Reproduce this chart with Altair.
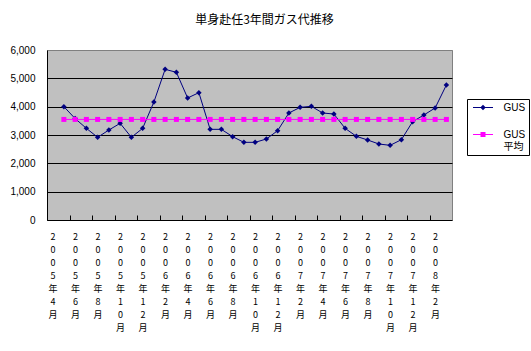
import altair as alt
import pandas as pd

# ---- data ----
idx = list(range(35))
gus = [4000, 3580, 3235, 2918, 3176, 3412, 2918, 3235, 4165, 5318,
       5212, 4306, 4494, 3200, 3200, 2941, 2741, 2741, 2859, 3153,
       3776, 3976, 4012, 3776, 3741, 3235, 2953, 2824, 2682, 2635,
       2835, 3471, 3706, 3953, 4765]
gus_avg = [3550, 3550, 3550, 3550, 3550, 3550, 3550, 3550, 3550, 3550,
           3550, 3550, 3550, 3550, 3550, 3550, 3550, 3550, 3550, 3550,
           3550, 3550, 3550, 3550, 3550, 3550, 3550, 3550, 3550, 3550,
           3550, 3550, 3550, 3550, 3550]
x_labels = ["2005年4月", "2005年6月", "2005年8月", "2005年10月", "2005年12月",
            "2006年2月", "2006年4月", "2006年6月", "2006年8月", "2006年10月",
            "2006年12月", "2007年2月", "2007年4月", "2007年6月", "2007年8月",
            "2007年10月", "2007年12月", "2008年2月"]
series_names = ["GUS", "GUS平均"]
series_colors = ["#000080", "#FF00FF"]
y_ticks = [0, 1000, 2000, 3000, 4000, 5000, 6000]

df = pd.DataFrame({
    "idx": idx + idx,
    "value": gus + gus_avg,
    "series": [series_names[0]] * len(gus) + [series_names[1]] * len(gus_avg),
})

tick_vals = [-1.5 + 2 * k for k in range(len(x_labels))]
label_arr = "[" + ",".join("'" + s + "'" for s in x_labels) + "]"
x_label_expr = f"split({label_arr}[round((datum.value + 1.5) / 2)], '')"

x_enc = alt.X(
    "idx:Q",
    scale=alt.Scale(domain=[-1.5, 34.5], nice=False, zero=False),
    axis=alt.Axis(
        values=tick_vals, labelExpr=x_label_expr, title=None, grid=False,
        domain=False, ticks=True, tickSize=5, tickColor="black", tickWidth=1,
        offset=-5, labelOffset=5.6, labelPadding=12, labelBaseline="top",
        labelAlign="center", labelAngle=0, labelFontSize=9,
        labelFont="Noto Sans CJK JP", labelLineHeight=13, labelColor="black",
        labelOverlap=False, labelFlush=False, labelBound=False,
    ),
)
y_enc = alt.Y(
    "value:Q",
    scale=alt.Scale(domain=[0, 6000], nice=False),
    axis=alt.Axis(
        values=y_ticks, format=",.0f", title=None, grid=True,
        gridColor={"condition": {"test": "datum.value === 6000", "value": "#808080"}, "value": "black"},
        gridWidth=1, ticks=False, domain=True, domainColor="black", domainWidth=1,
        labelPadding=12, labelFontSize=10, labelFont="Liberation Sans",
        labelColor="black",
    ),
)
color_scale = alt.Scale(domain=series_names, range=series_colors)
marker_paths = [
    "M0,-0.55L0.55,0L0,0.55L-0.55,0Z",
    "M-0.5,-0.5L0.5,-0.5L0.5,0.5L-0.5,0.5Z",
]
label_expr = "datum.label == 'GUS平均' ? ['GUS', '平均'] : datum.label"
common_leg = dict(
    title=None, orient="none", legendX=420, legendY=49, direction="vertical",
    padding=3, rowPadding=16, labelFont="Liberation Sans, Noto Sans CJK JP",
    labelFontSize=10, labelColor="black", labelExpr=label_expr,
    symbolSize=100, symbolStrokeWidth=1, symbolOffset=7.5, labelOffset=15,
)
line_leg = alt.Legend(strokeColor="black", fillColor="white", cornerRadius=0,
                      symbolType="M-2,0L2,0", **common_leg)
point_leg = alt.Legend(labelOpacity=0, **common_leg)

line = alt.Chart(df).mark_line(strokeWidth=1).encode(
    x=x_enc, y=y_enc,
    color=alt.Color("series:N", scale=color_scale, legend=line_leg),
)
points = alt.Chart(df).mark_point(filled=True, size=100, opacity=1).encode(
    x=x_enc, y=y_enc,
    color=alt.Color("series:N", scale=color_scale, legend=point_leg),
    shape=alt.Shape("series:N", scale=alt.Scale(domain=series_names, range=marker_paths), legend=point_leg),
)

chart = alt.layer(line, points).resolve_legend(color="independent", shape="independent").properties(
    width=405, height=170,
    autosize=alt.AutoSizeParams(type="none"),
    padding={"left": 47, "top": 50, "right": 79, "bottom": 131},
    background="white",
    title=alt.TitleParams(
        "単身赴任3年間ガス代推移", font="Noto Sans CJK JP", fontSize=12,
        fontWeight="normal", color="black", anchor="middle", dx=15,
        baseline="bottom", offset=6,
    ),
).configure_view(fill="#C0C0C0", stroke="#808080", strokeWidth=1)

chart.save("out.html", embed_options={"renderer": "svg", "actions": False})
